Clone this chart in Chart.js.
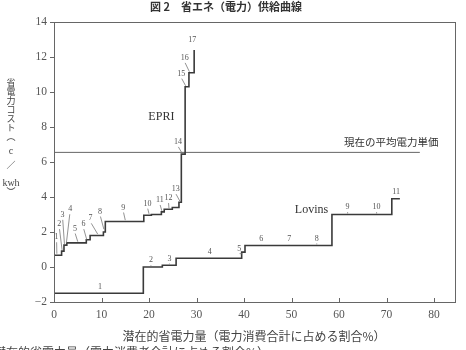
<!DOCTYPE html>
<html>
<head>
<meta charset="utf-8">
<script src="https://cdn.jsdelivr.net/npm/chart.js@4/dist/chart.umd.min.js"></script>
<style>
  html, body { margin: 0; padding: 0; background: #fff; }
  #wrap { width: 466px; height: 350px; position: relative; }
</style>
</head>
<body>
<div id="wrap"><canvas id="supplyChart" width="466" height="350"></canvas></div>
<script>
// Axis ticks
const xTicks = [0, 10, 20, 30, 40, 50, 60, 70, 80];
const yTicks = [-2, 0, 2, 4, 6, 8, 10, 12, 14];

// EPRI supply curve: start of each step (cumulative %), cost (c/kwh)
const epriX = [0, 1.6, 2.1, 2.7, 6.8, 7.6, 10.4, 10.8, 18.9, 20.5, 22.6, 23.2, 24.9, 26.3, 26.8, 27.6, 28.4, 29.5];
const epriY = [0.67, 0.91, 1.25, 1.38, 1.56, 1.8, 2.0, 2.6, 2.96, 3.0, 3.15, 3.3, 3.4, 3.7, 6.45, 10.3, 11.1, 12.4];

// Lovins supply curve
const lovinsX = [0, 18.8, 22.8, 25.7, 39.5, 40.2, 58.5, 71.1, 72.8];
const lovinsY = [-1.5, 0, 0.1, 0.5, 0.85, 1.23, 3.0, 3.9, 3.9];

// current average electricity price
const avgPriceX = [0, 77];
const avgPriceY = [6.55, 6.55];

// measure numbers: label position and where the leader meets the curve
const epriNums = ['1', '2', '3', '4', '5', '6', '7', '8', '9', '10', '11', '12', '13', '14', '15', '16', '17'];
const epriNumPos = [[0.55, 1.7], [1.1, 2.45], [1.8, 2.98], [3.4, 3.3], [4.4, 2.2], [6.2, 2.45], [7.7, 2.78], [9.7, 3.17], [14.6, 3.4], [19.7, 3.62], [22.3, 3.83], [24.1, 3.94], [25.6, 4.45], [26.1, 7.15], [26.8, 11.05], [27.5, 11.95], [29.1, 12.95]];
const epriNumLead = [[0.6, 0.7], [1.7, 0.92], [2.2, 1.26], [2.6, 1.3], [5.0, 1.39], [6.9, 1.5], [9.2, 1.82], [10.5, 2.1], [15.0, 2.62], [20.0, 2.98], [22.7, 3.15], [24.2, 3.3], [26.5, 3.7], [26.9, 6.47], [27.7, 10.3], [28.5, 11.1], null];

const lovinsNums = ['1', '2', '3', '4', '5', '6', '7', '8', '9', '10', '11'];
const lovinsNumPos = [[9.7, -1.15], [20.4, 0.38], [24.3, 0.48], [32.8, 0.85], [39.0, 1.05], [43.6, 1.58], [49.5, 1.58], [55.3, 1.63], [61.8, 3.42], [67.9, 3.42], [72.0, 4.3]];
const lovinsNumLead = [[9.7, -1.5], [20.4, 0], [24.3, 0.1], [32.8, 0.5], [39.6, 0.7], [43.6, 1.23], [49.5, 1.23], [55.3, 1.23], [61.8, 3.0], [67.9, 3.0], null];

// text labels
const chartTitle = '図 2　省エネ（電力）供給曲線';
const xTitle = '潜在的省電力量（電力消費合計に占める割合%）';
const cutLine = '潜在的省電力量（電力消費者合計に占める割合%）';
const yTitleChars = ['省', '電', '力', 'コ', 'ス', 'ト', '︵', 'c', '／', 'kwh', '︶'];
const curveNames = ['EPRI', 'Lovins'];
const curveNamePos = [[22.6, 8.6], [54.2, 3.25]];
const avgPriceLabel = '現在の平均電力単価';
const avgPriceLabelPos = [71.0, 7.15];

function toPoints(xs, ys) {
    return xs.map((x, i) => ({ x: x, y: ys[i] }));
}

const ink = '#3a3a3a';
const serif = '"Liberation Serif", "DejaVu Serif", serif';
const jp = '"Noto Sans CJK JP", sans-serif';

// Draws frame, inner x ticks, titles, measure numbers and curve names
const annotations = {
    id: 'annotations',
    afterDraw(chart) {
        const ctx = chart.ctx;
        const xs = chart.scales.x;
        const ys = chart.scales.y;
        const area = chart.chartArea;
        const px = v => xs.getPixelForValue(v);
        const py = v => ys.getPixelForValue(v);

        ctx.save();
        // frame
        ctx.strokeStyle = '#666';
        ctx.lineWidth = 1;
        ctx.strokeRect(Math.round(area.left) + 0.5, Math.round(area.top) + 0.5,
            Math.round(area.right - area.left), Math.round(area.bottom - area.top));

        // x ticks point inward
        ctx.beginPath();
        xTicks.forEach(v => {
            const x = Math.round(px(v)) + 0.5;
            ctx.moveTo(x, area.bottom);
            ctx.lineTo(x, area.bottom - 4);
        });
        ctx.stroke();

        // title
        ctx.fillStyle = '#333';
        ctx.textAlign = 'center';
        ctx.textBaseline = 'middle';
        ctx.font = 'bold 11px ' + jp;
        ctx.fillText(chartTitle, 226, 7);

        // x axis title
        ctx.font = '12px ' + jp;
        ctx.fillStyle = '#444';
        ctx.fillText(xTitle, 254, 336);

        // caption line cut by the bottom edge
        ctx.textAlign = 'left';
        ctx.textBaseline = 'top';
        ctx.fillText(cutLine, -6, 346);

        // y axis title, stacked vertically
        ctx.textAlign = 'center';
        ctx.textBaseline = 'middle';
        let ty = 83;
        yTitleChars.forEach(ch => {
            if (ch === 'kwh' || ch === 'c') {
                ctx.font = '10px ' + serif;
            } else {
                ctx.font = '9px ' + jp;
            }
            if (ch === 'kwh') ty += 4;
            ctx.fillText(ch, 11, ty);
            ty += (ch === '︵' || ch === 'c' || ch === '／') ? 14 : 9;
        });

        // curve names
        ctx.font = '12px ' + serif;
        ctx.fillStyle = '#333';
        curveNames.forEach((name, i) => {
            ctx.fillText(name, px(curveNamePos[i][0]), py(curveNamePos[i][1]));
        });
        ctx.font = '10.5px ' + jp;
        ctx.fillText(avgPriceLabel, px(avgPriceLabelPos[0]), py(avgPriceLabelPos[1]));

        // measure numbers with leaders
        ctx.font = '8px ' + serif;
        ctx.fillStyle = '#555';
        ctx.strokeStyle = '#777';
        ctx.lineWidth = 0.8;
        const drawNums = (nums, pos, lead) => {
            nums.forEach((n, i) => {
                const lx = px(pos[i][0]);
                const ly = py(pos[i][1]);
                ctx.fillText(n, lx, ly);
                const t = lead[i];
                if (t) {
                    const ex = px(t[0]);
                    const ey = py(t[1]);
                    ctx.beginPath();
                    ctx.moveTo(lx + (ex - lx) * 0.1, ly + 5);
                    ctx.lineTo(ex, ey - 1);
                    ctx.stroke();
                }
            });
        };
        drawNums(epriNums, epriNumPos, epriNumLead);
        drawNums(lovinsNums, lovinsNumPos, lovinsNumLead);
        ctx.restore();
    }
};

new Chart(document.getElementById('supplyChart'), {
    type: 'line',
    data: {
        datasets: [
            {
                label: 'EPRI',
                data: toPoints(epriX, epriY),
                stepped: 'before',
                borderColor: ink,
                borderWidth: 1.6,
                pointRadius: 0,
                fill: false
            },
            {
                label: 'Lovins',
                data: toPoints(lovinsX, lovinsY),
                stepped: 'before',
                borderColor: ink,
                borderWidth: 1.6,
                pointRadius: 0,
                fill: false
            },
            {
                label: '現在の平均電力単価',
                data: toPoints(avgPriceX, avgPriceY),
                borderColor: '#666',
                borderWidth: 1,
                pointRadius: 0,
                fill: false
            }
        ]
    },
    options: {
        responsive: false,
        animation: false,
        layout: {
            padding: { top: 22, right: 11, left: 0, bottom: 0 }
        },
        plugins: {
            legend: { display: false },
            tooltip: { enabled: false }
        },
        scales: {
            x: {
                type: 'linear',
                min: 0,
                max: 84.4,
                afterBuildTicks: scale => { scale.ticks = xTicks.map(v => ({ value: v })); },
                afterFit: scale => { scale.height = 48; },
                border: { display: false },
                grid: { display: false, drawTicks: false },
                ticks: {
                    padding: 6,
                    color: '#555',
                    font: { family: serif, size: 11.5 },
                    maxRotation: 0
                }
            },
            y: {
                type: 'linear',
                min: -2,
                max: 14,
                afterBuildTicks: scale => { scale.ticks = yTicks.map(v => ({ value: v })); },
                afterFit: scale => { scale.width = 54; },
                border: { display: false },
                grid: {
                    drawOnChartArea: false,
                    drawTicks: true,
                    tickLength: 4,
                    tickColor: '#666'
                },
                ticks: {
                    padding: 3,
                    color: '#555',
                    font: { family: serif, size: 11.5 },
                    callback: v => (v < 0 ? '\u2212' + Math.abs(v) : String(v))
                }
            }
        }
    },
    plugins: [annotations]
});
</script>
</body>
</html>
